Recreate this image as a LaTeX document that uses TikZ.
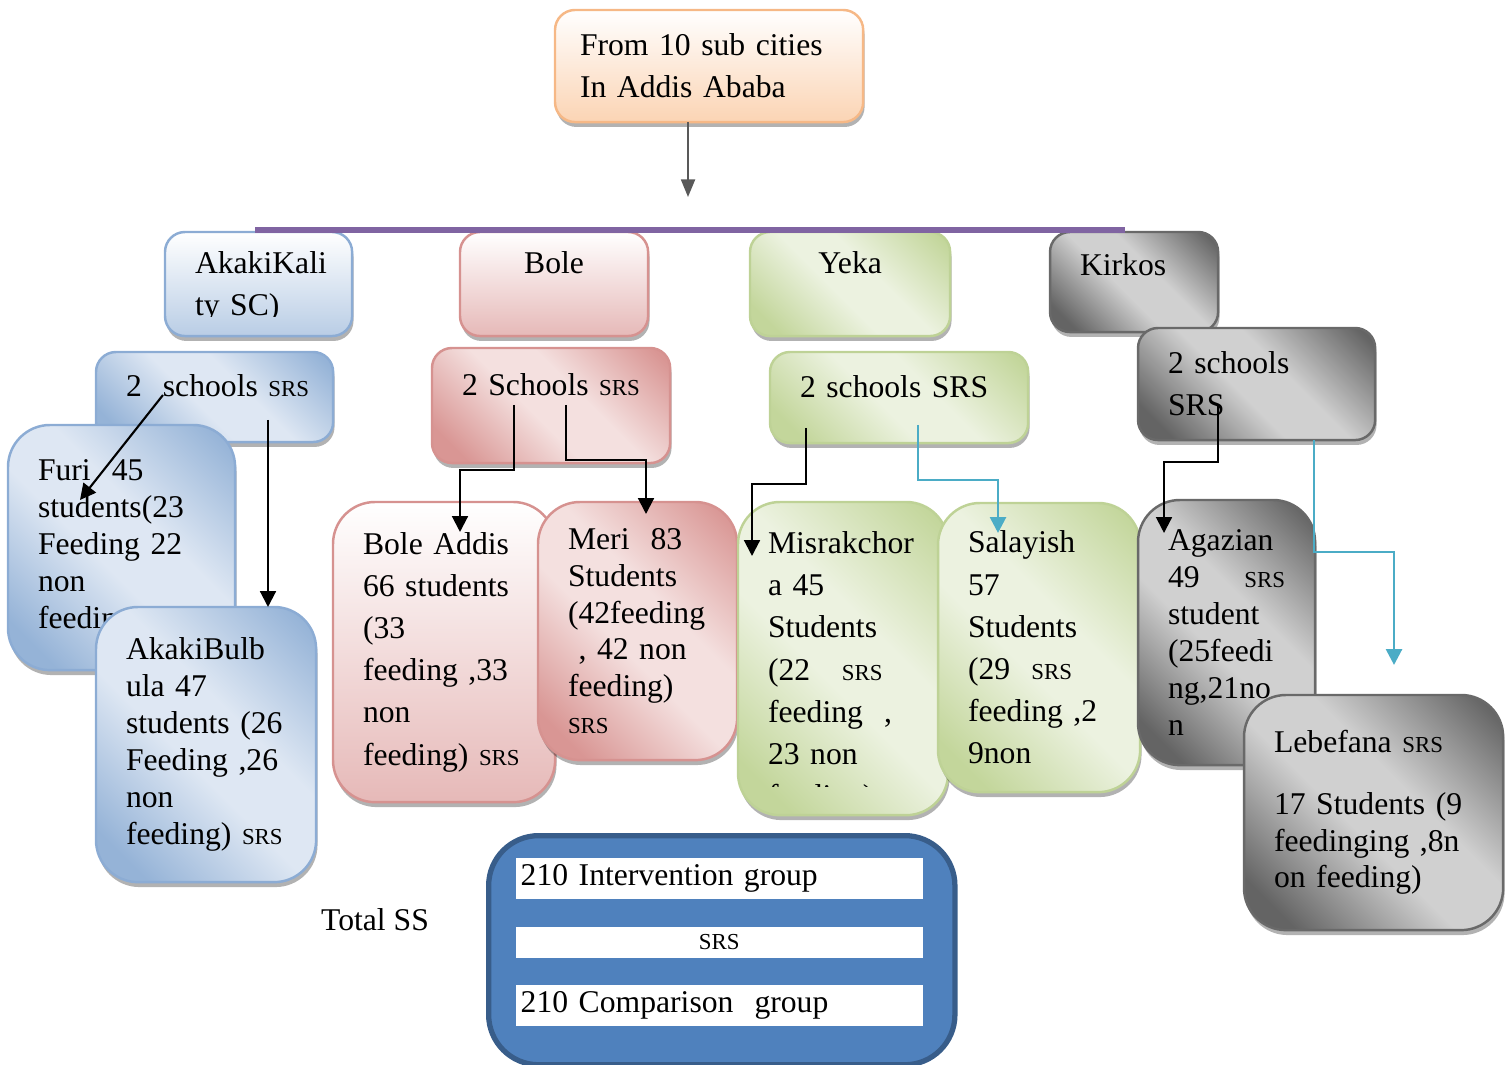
\documentclass[tikz,border=0pt]{standalone}
\usepackage{fontspec}
\setmainfont{Liberation Serif}
\usetikzlibrary{arrows.meta, shadows}

\definecolor{bluedk}{RGB}{149,179,215}
\definecolor{bluelt}{RGB}{222,231,243}
\definecolor{bluemid}{RGB}{185,205,229}
\definecolor{blueln}{RGB}{140,172,212}
\definecolor{reddk}{RGB}{217,150,148}
\definecolor{redlt}{RGB}{244,224,223}
\definecolor{redmid}{RGB}{230,185,184}
\definecolor{redln}{RGB}{214,146,144}
\definecolor{greendk}{RGB}{195,214,155}
\definecolor{greenlt}{RGB}{236,242,224}
\definecolor{greenln}{RGB}{190,210,150}
\definecolor{graydk}{RGB}{100,100,100}
\definecolor{graylt}{RGB}{208,208,208}
\definecolor{grayln}{RGB}{105,105,105}
\definecolor{orangebt}{RGB}{251,212,180}
\definecolor{orangeln}{RGB}{246,184,134}
\definecolor{linepurple}{RGB}{128,100,162}
\definecolor{arrowcyan}{RGB}{75,172,198}
\definecolor{sampleblue}{RGB}{79,129,189}
\definecolor{sampleln}{RGB}{56,93,138}

\pgfdeclareverticalshading{bluediag}{100bp}{color(0bp)=(bluedk); color(22bp)=(bluedk); color(45bp)=(bluelt); color(58bp)=(bluelt); color(82bp)=(bluedk); color(100bp)=(bluedk)}
\pgfdeclareverticalshading{reddiag}{100bp}{color(0bp)=(reddk); color(22bp)=(reddk); color(45bp)=(redlt); color(58bp)=(redlt); color(82bp)=(reddk); color(100bp)=(reddk)}
\pgfdeclareverticalshading{greendiag}{100bp}{color(0bp)=(greendk); color(22bp)=(greendk); color(45bp)=(greenlt); color(58bp)=(greenlt); color(82bp)=(greendk); color(100bp)=(greendk)}
\pgfdeclareverticalshading{graydiag}{100bp}{color(0bp)=(graydk); color(22bp)=(graydk); color(45bp)=(graylt); color(58bp)=(graylt); color(82bp)=(graydk); color(100bp)=(graydk)}

\newcommand\srs{{\fontsize{6.5}{7}\selectfont SRS}}
\newcommand\boxfont{\fontsize{9}{10.5}\selectfont\hyphenpenalty10000\relax}
\newcommand\widefont{\fontsize{9}{12}\selectfont\hyphenpenalty10000\relax}

\begin{document}
\begin{tikzpicture}[x=0.01cm, y=-0.01cm,
    cellbox/.style={anchor=north west, inner xsep=0.3cm, inner ysep=0pt, outer sep=0pt,
        align=left, line width=0.7pt, rounded corners=0.2cm, font=\boxfont,
        drop shadow={shadow xshift=0.4pt, shadow yshift=-1.4pt, fill=black, opacity=0.3}},
    tall/.style={rounded corners=0.42cm},
    wide/.style={font=\widefont},
    orangev/.style={cellbox, top color=white, bottom color=orangebt, draw=orangeln},
    bluev/.style={cellbox, top color=white, bottom color=bluemid, draw=blueln},
    redv/.style={cellbox, top color=white, bottom color=redmid, draw=redln},
    bluebox/.style={cellbox, shading=bluediag, shading angle=-45, draw=blueln},
    redbox/.style={cellbox, shading=reddiag, shading angle=-45, draw=redln},
    greenbox/.style={cellbox, shading=greendiag, shading angle=-45, draw=greenln},
    graybox/.style={cellbox, shading=graydiag, shading angle=-45, draw=grayln},
    boxtext/.style={inner xsep=0.3cm, inner ysep=0pt, align=left, font=\boxfont},
    band/.style={anchor=north west, fill=white, minimum width=4.07cm, minimum height=0.41cm,
        text width=3.97cm, inner xsep=0.05cm, inner ysep=0pt, align=left, font=\boxfont},
    blkarrow/.style={-{Triangle[length=4.5pt,width=4.5pt]}, line width=0.6pt, black},
    cyanarrow/.style={-{Triangle[length=4.5pt,width=4.5pt]}, line width=0.8pt, arrowcyan},
    greyarrow/.style={-{Triangle[length=5pt,width=4pt]}, line width=0.5pt, black!65}
]
    \useasboundingbox (0,0) rectangle (1507,1065);

    % top box
    \node[orangev, wide, inner xsep=0.25cm, text width=2.58cm, minimum height=1.12cm]
        at (555,10) (cities) {From 10 sub cities\\In Addis Ababa};
    \coordinate (split) at (688,197);
    \draw[greyarrow] ([shift={(-21,0)}]cities.south) -- (split);

    % sub cities
    \node[bluev, text width=1.27cm, minimum height=1.04cm] at (165,232) (akaki) {};
    \begin{scope}
        \clip (akaki.north west) rectangle ([shift={(0,-20)}]akaki.south east);
        \node[boxtext, wide, text width=1.27cm] at ([shift={(0,3)}]akaki.center) (akakitext) {AkakiKali\\ty SC)};
    \end{scope}
    \node[redv, wide, align=center, text width=1.28cm, minimum height=1.04cm] at (460,232) (bole) {Bole\\~};
    \node[greenbox, wide, align=center, text width=1.40cm, minimum height=1.04cm] at (750,232) (yeka) {Yeka\\~};
    \node[graybox, wide, text width=1.08cm, minimum height=1.00cm] at (1050,232) (kirkos) {Kirkos\\[-2pt]~};

    \coordinate (lineL) at (255,230);
    \coordinate (lineR) at (1125,230);
    \draw[linepurple, line width=1.5pt] (lineL) -- (lineR);

    % 2 schools per sub city
    \node[bluebox, text width=1.77cm, minimum height=0.90cm] at (96,352) (akakiS)
        {\mbox{2~ schools \srs}\\[-4pt]~};
    \node[redbox, wide, text width=1.78cm, minimum height=1.15cm] at (432,348) (boleS) {2 Schools \srs\\~};
    \node[greenbox, text width=1.98cm, minimum height=0.91cm] at (770,352) (yekaS)
        {\mbox{2 schools SRS}\\[-4pt]~};
    \node[graybox, wide, text width=1.77cm, minimum height=1.12cm] at (1138,328) (kirkosS) {2 schools\\SRS};

    % schools
    \node[bluebox, tall, text width=1.67cm, minimum height=2.45cm] at (8,425) (furi)
        {Furi~~45\\students(23\\Feeding 22\\non\\feeding)};
    \node[bluebox, tall, text width=1.60cm, minimum height=2.75cm] at (96,607) (bulbula)
        {AkakiBulb\\ula 47\\students (26\\Feeding ,26\\non\\feeding) \srs};
    \node[redv, tall, wide, text width=1.62cm, minimum height=3.00cm] at (333,502) (boleaddis)
        {Bole Addis\\66 students\\(33\\feeding ,33\\non\\feeding) \srs};
    \node[redbox, tall, text width=1.39cm, minimum height=2.58cm] at (538,502) (meri)
        {Meri~~83\\Students\\(42feeding\\~, 42 non\\feeding)\\\srs};
    \node[greenbox, tall, text width=1.50cm, minimum height=3.13cm] at (738,502) (misrak) {};
    \begin{scope}
        \clip (misrak.north west) rectangle ([shift={(0,-29)}]misrak.south east);
        \node[boxtext, wide, text width=1.50cm] at ([shift={(0,14)}]misrak.center) (misraktext)
            {Misrakchor\\a 45\\Students\\(22\quad\srs\\feeding~~,\\23 non\\feeding)};
    \end{scope}
    \node[greenbox, tall, wide, text width=1.42cm, minimum height=2.89cm] at (938,503) (salayish)
        {Salayish\\57\\Students\\(29~~\srs\\feeding ,2\\9non};
    \node[graybox, tall, text width=1.17cm, minimum height=2.65cm] at (1138,500) (agazian)
        {Agazian\\49\hspace{0pt plus 1filll}\srs\\student\\(25feedi\\ng,21no\\n};
    \node[graybox, tall, text width=1.99cm, minimum height=2.35cm] at (1244,695) (lebefana)
        {Lebefana \srs\\[7pt]17 Students (9\\feedinging ,8n\\on feeding)};

    % sample size
    \node[font=\boxfont] at (375,920) (total) {Total SS};
    \node[anchor=north west, fill=sampleblue, draw=sampleln, line width=1.5pt,
        rounded corners=0.5cm, minimum width=4.66cm, minimum height=2.29cm] at (486,833) (sample) {};
    \node[band] at (515,857) (interv) {210 Intervention group};
    \node[band, align=center, minimum height=0.31cm, font=\fontsize{6.5}{7}\selectfont] at (515,926) (srsband) {SRS};
    \node[band] at (515,984) (compar) {210 Comparison~~group};

    % arrows
    \draw[blkarrow] ([shift={(67,43)}]akakiS.north west) -- ([shift={(72,75)}]furi.north west);
    \draw[blkarrow] ([shift={(172,68)}]akakiS.north west) -- ([shift={(172,0)}]bulbula.north west);
    \draw[blkarrow] ([shift={(82,57)}]boleS.north west) -- ++(0,65) -| ([shift={(127,30)}]boleaddis.north west);
    \draw[blkarrow] ([shift={(134,57)}]boleS.north west) -- ++(0,55) -| ([shift={(108,12)}]meri.north west);
    \draw[blkarrow] ([shift={(36,76)}]yekaS.north west) -- ++(0,56) -| ([shift={(14,54)}]misrak.north west);
    \draw[cyanarrow] ([shift={(148,73)}]yekaS.north west) -- ++(0,55) -| ([shift={(60,30)}]salayish.north west);
    \draw[blkarrow] ([shift={(80,77)}]kirkosS.north west) -- ++(0,57) -| ([shift={(26,33)}]agazian.north west);
    \draw[cyanarrow] ([shift={(176,112)}]kirkosS.north west) -- ++(0,112) -| ([shift={(150,-30)}]lebefana.north west);
\end{tikzpicture}
\end{document}
